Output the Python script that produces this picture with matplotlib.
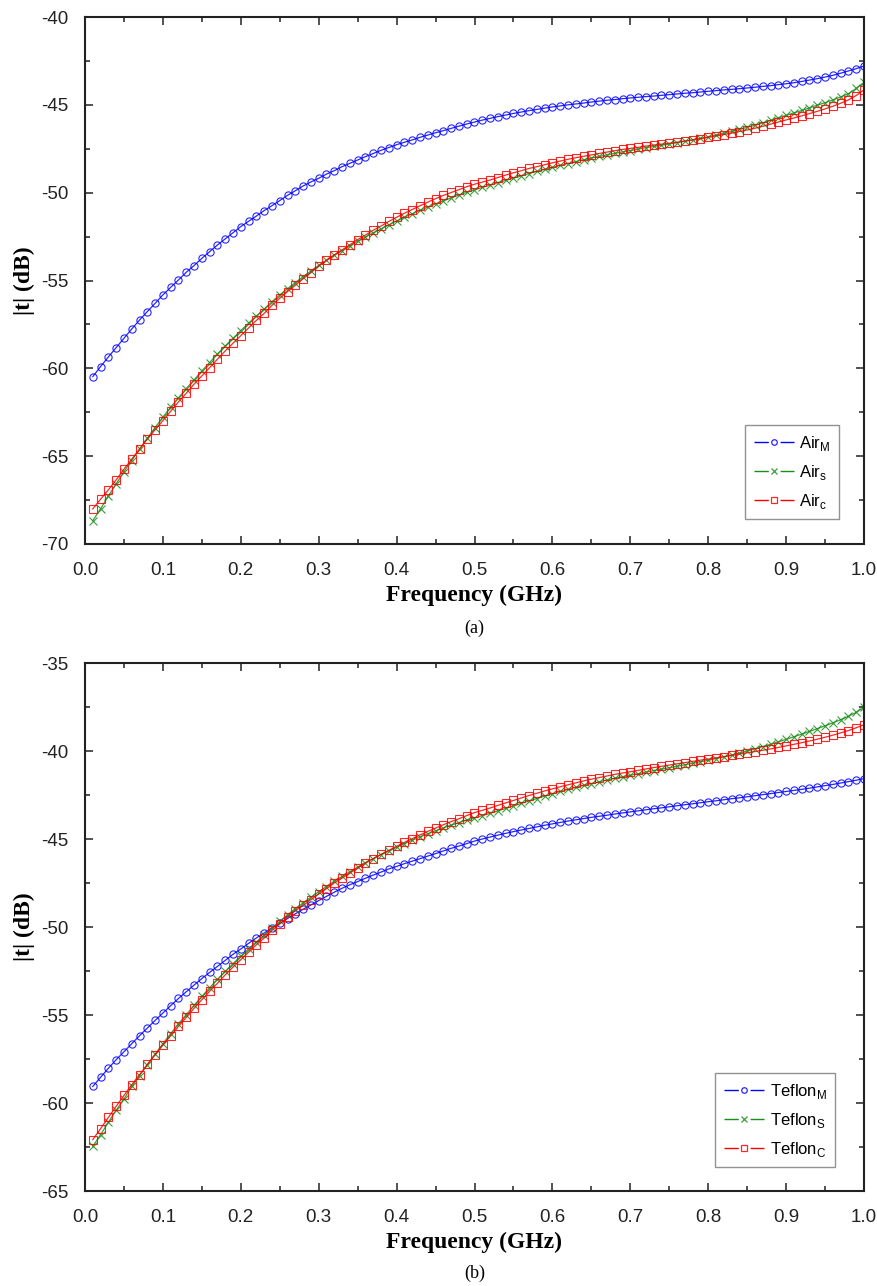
import matplotlib
matplotlib.use("Agg")
import matplotlib.pyplot as plt
from matplotlib.ticker import MultipleLocator, FormatStrFormatter
from matplotlib.lines import Line2D
from matplotlib.legend_handler import HandlerTuple

plt.rcParams['axes.unicode_minus'] = False

freq = [round(0.01 * i, 2) for i in range(1, 101)]

air_m = [-60.47, -59.90, -59.35, -58.82, -58.29, -57.76, -57.25, -56.77, -56.30, -55.82,
         -55.39, -54.97, -54.53, -54.15, -53.74, -53.36, -52.98, -52.63, -52.28, -51.93,
         -51.63, -51.33, -51.02, -50.74, -50.45, -50.15, -49.89, -49.62, -49.39, -49.18,
         -48.94, -48.75, -48.52, -48.33, -48.14, -47.95, -47.77, -47.59, -47.43, -47.27,
         -47.13, -47.00, -46.85, -46.72, -46.59, -46.47, -46.34, -46.21, -46.09, -45.98,
         -45.87, -45.77, -45.67, -45.58, -45.49, -45.41, -45.33, -45.26, -45.19, -45.12,
         -45.06, -45.00, -44.95, -44.90, -44.84, -44.79, -44.74, -44.70, -44.65, -44.61,
         -44.57, -44.53, -44.50, -44.46, -44.42, -44.38, -44.34, -44.31, -44.27, -44.23,
         -44.19, -44.15, -44.12, -44.08, -44.04, -44.00, -43.95, -43.91, -43.85, -43.80,
         -43.74, -43.67, -43.59, -43.51, -43.42, -43.32, -43.20, -43.07, -42.94, -42.79]

air_s = [-68.67, -68.00, -67.26, -66.58, -65.88, -65.25, -64.60, -63.98, -63.37, -62.78,
         -62.21, -61.68, -61.15, -60.66, -60.15, -59.67, -59.18, -58.72, -58.29, -57.85,
         -57.43, -57.02, -56.62, -56.20, -55.82, -55.46, -55.12, -54.78, -54.46, -54.14,
         -53.85, -53.57, -53.30, -53.04, -52.77, -52.53, -52.29, -52.06, -51.83, -51.61,
         -51.40, -51.20, -51.01, -50.82, -50.64, -50.47, -50.30, -50.14, -49.98, -49.84,
         -49.70, -49.57, -49.43, -49.30, -49.17, -49.04, -48.91, -48.79, -48.67, -48.56,
         -48.45, -48.34, -48.23, -48.13, -48.03, -47.94, -47.85, -47.76, -47.68, -47.60,
         -47.52, -47.44, -47.37, -47.30, -47.23, -47.15, -47.07, -46.99, -46.91, -46.82,
         -46.72, -46.62, -46.51, -46.40, -46.28, -46.16, -46.03, -45.89, -45.75, -45.60,
         -45.46, -45.32, -45.17, -45.02, -44.88, -44.72, -44.55, -44.36, -44.07, -43.72]

air_c = [-68.00, -67.45, -66.92, -66.35, -65.74, -65.17, -64.60, -64.03, -63.50, -62.98,
         -62.44, -61.91, -61.42, -60.90, -60.43, -59.96, -59.48, -59.01, -58.57, -58.14,
         -57.70, -57.27, -56.87, -56.42, -56.01, -55.63, -55.27, -54.90, -54.55, -54.18,
         -53.86, -53.54, -53.26, -52.97, -52.67, -52.41, -52.14, -51.90, -51.64, -51.40,
         -51.17, -50.96, -50.75, -50.54, -50.34, -50.16, -49.99, -49.83, -49.66, -49.52,
         -49.40, -49.28, -49.14, -49.00, -48.87, -48.75, -48.62, -48.52, -48.41, -48.30,
         -48.20, -48.10, -48.01, -47.93, -47.85, -47.77, -47.69, -47.61, -47.54, -47.48,
         -47.42, -47.35, -47.29, -47.24, -47.19, -47.13, -47.06, -47.00, -46.93, -46.85,
         -46.77, -46.69, -46.61, -46.52, -46.43, -46.33, -46.22, -46.10, -45.98, -45.86,
         -45.75, -45.63, -45.50, -45.37, -45.23, -45.08, -44.91, -44.72, -44.47, -44.15]

teflon_m = [-59.06, -58.54, -58.03, -57.54, -57.09, -56.63, -56.18, -55.74, -55.31, -54.89,
            -54.47, -54.06, -53.68, -53.30, -52.93, -52.58, -52.24, -51.90, -51.55, -51.25,
            -50.93, -50.62, -50.34, -50.05, -49.79, -49.52, -49.25, -48.99, -48.75, -48.50,
            -48.26, -48.02, -47.80, -47.60, -47.42, -47.23, -47.05, -46.88, -46.70, -46.56,
            -46.40, -46.26, -46.12, -45.97, -45.83, -45.68, -45.53, -45.40, -45.26, -45.12,
            -45.00, -44.89, -44.78, -44.68, -44.58, -44.49, -44.40, -44.31, -44.22, -44.14,
            -44.06, -43.98, -43.91, -43.84, -43.77, -43.71, -43.65, -43.58, -43.52, -43.46,
            -43.40, -43.34, -43.28, -43.23, -43.17, -43.11, -43.05, -43.00, -42.94, -42.88,
            -42.83, -42.77, -42.71, -42.66, -42.60, -42.54, -42.48, -42.42, -42.36, -42.30,
            -42.24, -42.18, -42.11, -42.04, -41.97, -41.90, -41.82, -41.74, -41.66, -41.57]

teflon_s = [-62.46, -61.80, -61.10, -60.42, -59.77, -59.06, -58.45, -57.82, -57.22, -56.63,
            -56.06, -55.50, -54.98, -54.45, -53.94, -53.45, -52.98, -52.52, -52.08, -51.66,
            -51.25, -50.85, -50.46, -50.05, -49.68, -49.31, -48.95, -48.63, -48.31, -48.00,
            -47.70, -47.40, -47.13, -46.86, -46.60, -46.34, -46.11, -45.89, -45.68, -45.47,
            -45.26, -45.07, -44.88, -44.70, -44.53, -44.37, -44.21, -44.07, -43.92, -43.80,
            -43.67, -43.54, -43.40, -43.26, -43.12, -42.98, -42.84, -42.70, -42.56, -42.43,
            -42.30, -42.18, -42.06, -41.95, -41.85, -41.75, -41.65, -41.55, -41.46, -41.38,
            -41.29, -41.20, -41.11, -41.03, -40.95, -40.87, -40.78, -40.70, -40.61, -40.53,
            -40.43, -40.33, -40.23, -40.12, -40.00, -39.88, -39.75, -39.62, -39.48, -39.34,
            -39.19, -39.04, -38.89, -38.73, -38.57, -38.40, -38.22, -38.03, -37.80, -37.52]

teflon_c = [-62.08, -61.46, -60.82, -60.19, -59.57, -58.96, -58.39, -57.81, -57.26, -56.70,
            -56.18, -55.65, -55.14, -54.62, -54.13, -53.65, -53.20, -52.72, -52.28, -51.86,
            -51.43, -51.01, -50.63, -50.19, -49.83, -49.45, -49.07, -48.77, -48.45, -48.13,
            -47.82, -47.50, -47.22, -46.93, -46.65, -46.37, -46.12, -45.87, -45.65, -45.42,
            -45.19, -44.98, -44.77, -44.57, -44.38, -44.19, -44.01, -43.85, -43.67, -43.50,
            -43.37, -43.24, -43.09, -42.95, -42.81, -42.67, -42.53, -42.40, -42.27, -42.15,
            -42.03, -41.92, -41.81, -41.70, -41.60, -41.51, -41.42, -41.33, -41.25, -41.18,
            -41.10, -41.02, -40.94, -40.87, -40.80, -40.73, -40.66, -40.59, -40.52, -40.46,
            -40.39, -40.32, -40.25, -40.18, -40.10, -40.03, -39.96, -39.88, -39.80, -39.71,
            -39.62, -39.53, -39.43, -39.33, -39.22, -39.10, -38.97, -38.84, -38.68, -38.51]

labels_a = [r'Air$_{\mathregular{M}}$', r'Air$_{\mathregular{s}}$', r'Air$_{\mathregular{c}}$']
labels_b = [r'Teflon$_{\mathregular{M}}$', r'Teflon$_{\mathregular{S}}$', r'Teflon$_{\mathregular{C}}$']
ylim_a = (-70, -40)
ylim_b = (-65, -35)

colors = ['#0000ff', '#1a8c1a', '#ff0000']
markers = ['o', 'x', 's']

W, H = 877, 1286
fig = plt.figure(figsize=(W / 100, H / 100), dpi=100)

sans = 'Liberation Sans'
serif = 'Liberation Serif'


def panel(rect_px, series, labels, ylim, tag, leg_box):
    l, t, r, b = rect_px
    ax = fig.add_axes([l / W, 1 - b / H, (r - l) / W, (b - t) / H])
    handles = []
    for vals, c, m, lab in zip(series, colors, markers, labels):
        ax.plot(freq, vals, color=c, lw=0.9, marker=m, ms=5.2 if m != 'x' else 5.5,
                mfc='none', mec=c, mew=0.8, alpha=0.85)
        seg = Line2D([], [], color=c, lw=1.0, linestyle=(0, (10.3, 8.5, 10.3, 100)))
        mk = Line2D([], [], color=c, lw=0, marker=m, ms=4, mfc='none', mew=0.9, alpha=0.85)
        handles.append((seg, mk))
    ax.set_xlim(0.0, 1.0)
    ax.set_ylim(*ylim)
    ax.xaxis.set_major_locator(MultipleLocator(0.1))
    ax.xaxis.set_minor_locator(MultipleLocator(0.05))
    ax.yaxis.set_major_locator(MultipleLocator(5))
    ax.yaxis.set_minor_locator(MultipleLocator(2.5))
    ax.xaxis.set_major_formatter(FormatStrFormatter('%.1f'))
    ax.yaxis.set_major_formatter(FormatStrFormatter('%d'))
    ax.tick_params(which='both', direction='in', top=True, right=True, width=1.1, colors='#222222')
    ax.tick_params(which='major', length=6, labelsize=13.5)
    ax.tick_params(axis='x', which='major', pad=13)
    ax.tick_params(axis='y', which='major', pad=12)
    ax.tick_params(which='minor', length=3.5)
    for lab in ax.get_xticklabels() + ax.get_yticklabels():
        lab.set_fontfamily(sans)
        lab.set_color('#222222')
    for sp in ax.spines.values():
        sp.set_linewidth(1.5)
        sp.set_color('#222222')
    ax.set_xlabel('Frequency (GHz)', fontfamily=serif, fontweight='bold', fontsize=17, labelpad=4)
    ax.set_ylabel('|t| (dB)', fontfamily=serif, fontweight='bold', fontsize=17, labelpad=4)
    leg = ax.legend(handles, labels, loc='lower right', bbox_to_anchor=leg_box, borderaxespad=0,
                    handler_map={tuple: HandlerTuple(ndivide=1, pad=0)},
                    prop={'family': sans, 'size': 12}, frameon=True, fancybox=False,
                    edgecolor='#777777', handlelength=2.4, handletextpad=0.35,
                    labelspacing=0.6, borderpad=0.5)
    leg.get_frame().set_linewidth(1.0)
    fig.text((l + r) / 2 / W, 1 - tag[1] / H, tag[0], ha='center', va='center',
             fontfamily=serif, fontsize=13)
    return ax


panel((85, 17, 864, 544), [air_m, air_s, air_c], labels_a, ylim_a, ('(a)', 628),
      (1 - 25 / 779, 25 / 527))
panel((85, 663, 864, 1191), [teflon_m, teflon_s, teflon_c], labels_b, ylim_b, ('(b)', 1273),
      (1 - 29 / 779, 24 / 528))

fig.savefig('out.png', dpi=100)
